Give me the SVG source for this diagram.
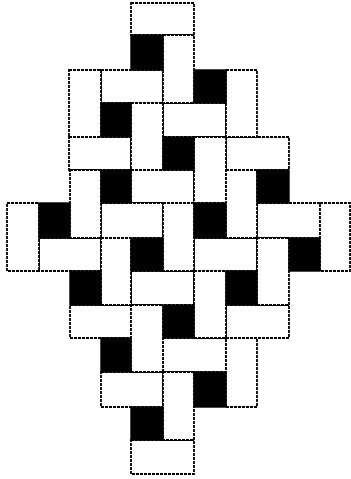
<svg xmlns="http://www.w3.org/2000/svg" width="351" height="479" viewBox="0 0 351 479">
<style>
.w{fill:#fff;stroke:#000;stroke-width:1.8;stroke-dasharray:3 1}
.b{fill:#000;stroke:#000;stroke-width:1.4}
</style>
<rect width="351" height="479" fill="#fff"/>
<g id="bricks-horizontal">
<rect id="h1" class="w" x="131" y="3" width="63" height="32"/>
<rect id="h2" class="w" x="101" y="70" width="62" height="33"/>
<rect id="h3" class="w" x="163" y="103" width="63" height="34"/>
<rect id="h4" class="w" x="69" y="137" width="62" height="33"/>
<rect id="h5" class="w" x="226" y="137" width="63" height="33"/>
<rect id="h6" class="w" x="131" y="170" width="63" height="33"/>
<rect id="h7" class="w" x="101" y="203" width="62" height="35"/>
<rect id="h8" class="w" x="257" y="203" width="63" height="35"/>
<rect id="h9" class="w" x="39" y="238" width="62" height="33"/>
<rect id="h10" class="w" x="194" y="238" width="63" height="33"/>
<rect id="h11" class="w" x="131" y="271" width="63" height="34"/>
<rect id="h12" class="w" x="70" y="305" width="61" height="33"/>
<rect id="h13" class="w" x="226" y="305" width="63" height="33"/>
<rect id="h14" class="w" x="163" y="338" width="63" height="34"/>
<rect id="h15" class="w" x="101" y="372" width="62" height="35"/>
<rect id="h16" class="w" x="131" y="440" width="63" height="34"/>
</g>
<g id="bricks-vertical">
<rect id="v1" class="w" x="163" y="35" width="31" height="68"/>
<rect id="v2" class="w" x="69" y="70" width="32" height="67"/>
<rect id="v3" class="w" x="226" y="70" width="31" height="67"/>
<rect id="v4" class="w" x="131" y="103" width="32" height="67"/>
<rect id="v5" class="w" x="194" y="137" width="32" height="66"/>
<rect id="v6" class="w" x="70" y="170" width="31" height="68"/>
<rect id="v7" class="w" x="226" y="170" width="31" height="68"/>
<rect id="v8" class="w" x="7" y="203" width="32" height="68"/>
<rect id="v9" class="w" x="163" y="203" width="31" height="68"/>
<rect id="v10" class="w" x="320" y="203" width="30" height="68"/>
<rect id="v11" class="w" x="101" y="238" width="30" height="67"/>
<rect id="v12" class="w" x="257" y="238" width="32" height="67"/>
<rect id="v13" class="w" x="194" y="271" width="32" height="67"/>
<rect id="v14" class="w" x="131" y="305" width="32" height="67"/>
<rect id="v15" class="w" x="226" y="338" width="31" height="69"/>
<rect id="v16" class="w" x="163" y="372" width="31" height="68"/>
</g>
<g id="black-squares">
<rect id="s1" class="b" x="131" y="35" width="32" height="35"/>
<rect id="s2" class="b" x="194" y="70" width="32" height="33"/>
<rect id="s3" class="b" x="101" y="103" width="30" height="34"/>
<rect id="s4" class="b" x="163" y="137" width="31" height="33"/>
<rect id="s5" class="b" x="101" y="170" width="30" height="33"/>
<rect id="s6" class="b" x="257" y="170" width="32" height="33"/>
<rect id="s7" class="b" x="39" y="203" width="31" height="35"/>
<rect id="s8" class="b" x="194" y="203" width="32" height="35"/>
<rect id="s9" class="b" x="131" y="238" width="32" height="33"/>
<rect id="s10" class="b" x="289" y="238" width="31" height="33"/>
<rect id="s11" class="b" x="70" y="271" width="31" height="34"/>
<rect id="s12" class="b" x="226" y="271" width="31" height="34"/>
<rect id="s13" class="b" x="163" y="305" width="31" height="33"/>
<rect id="s14" class="b" x="101" y="338" width="30" height="34"/>
<rect id="s15" class="b" x="194" y="372" width="32" height="35"/>
<rect id="s16" class="b" x="131" y="407" width="32" height="33"/>
</g>
</svg>
